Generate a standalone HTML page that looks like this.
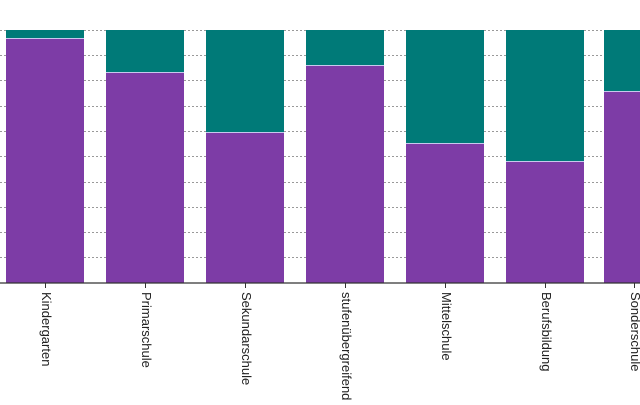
<!DOCTYPE html>
<html><head><style>body{margin:0;background:#fff;}</style></head><body>
<svg width="640" height="400" xmlns="http://www.w3.org/2000/svg" font-family="Liberation Sans, DejaVu Sans, sans-serif">
<g stroke="#999" stroke-dasharray="2,2" stroke-width="1">
<line x1="0" x2="640" y1="30.5" y2="30.5"/><line x1="0" x2="640" y1="55.5" y2="55.5"/><line x1="0" x2="640" y1="80.5" y2="80.5"/><line x1="0" x2="640" y1="106.5" y2="106.5"/><line x1="0" x2="640" y1="131.5" y2="131.5"/><line x1="0" x2="640" y1="156.5" y2="156.5"/><line x1="0" x2="640" y1="182.5" y2="182.5"/><line x1="0" x2="640" y1="207.5" y2="207.5"/><line x1="0" x2="640" y1="232.5" y2="232.5"/><line x1="0" x2="640" y1="257.5" y2="257.5"/>
</g>
<g>
<rect x="6" y="30" width="78" height="253" fill="#007a78"/><rect x="6" y="39" width="78" height="244" fill="#7d3ca6"/><line x1="6" x2="84" y1="38.5" y2="38.5" stroke="#c8c8ee"/>
<rect x="106" y="30" width="78" height="253" fill="#007a78"/><rect x="106" y="73" width="78" height="210" fill="#7d3ca6"/><line x1="106" x2="184" y1="72.5" y2="72.5" stroke="#c8c8ee"/>
<rect x="206" y="30" width="78" height="253" fill="#007a78"/><rect x="206" y="133" width="78" height="150" fill="#7d3ca6"/><line x1="206" x2="284" y1="132.5" y2="132.5" stroke="#c8c8ee"/>
<rect x="306" y="30" width="78" height="253" fill="#007a78"/><rect x="306" y="66" width="78" height="217" fill="#7d3ca6"/><line x1="306" x2="384" y1="65.5" y2="65.5" stroke="#c8c8ee"/>
<rect x="406" y="30" width="78" height="253" fill="#007a78"/><rect x="406" y="144" width="78" height="139" fill="#7d3ca6"/><line x1="406" x2="484" y1="143.5" y2="143.5" stroke="#c8c8ee"/>
<rect x="506" y="30" width="78" height="253" fill="#007a78"/><rect x="506" y="162" width="78" height="121" fill="#7d3ca6"/><line x1="506" x2="584" y1="161.5" y2="161.5" stroke="#c8c8ee"/>
<rect x="604" y="30" width="40" height="253" fill="#007a78"/><rect x="604" y="92" width="40" height="191" fill="#7d3ca6"/><line x1="604" x2="640" y1="91.5" y2="91.5" stroke="#c8c8ee"/>
</g>
<line x1="0" x2="640" y1="283" y2="283" stroke="#333" stroke-width="1.2"/>
<g stroke="#333">
<line x1="45.5" x2="45.5" y1="283" y2="288"/><line x1="145.5" x2="145.5" y1="283" y2="288"/><line x1="245.5" x2="245.5" y1="283" y2="288"/><line x1="345.5" x2="345.5" y1="283" y2="288"/><line x1="445.5" x2="445.5" y1="283" y2="288"/><line x1="545.5" x2="545.5" y1="283" y2="288"/><line x1="634.5" x2="634.5" y1="283" y2="288"/>
</g>
<g font-size="13" fill="#222">
<text transform="translate(42,292) rotate(90)">Kindergarten</text>
<text transform="translate(142,292) rotate(90)">Primarschule</text>
<text transform="translate(242,292) rotate(90)">Sekundarschule</text>
<text transform="translate(342,292) rotate(90)">stufenübergreifend</text>
<text transform="translate(442,292) rotate(90)">Mittelschule</text>
<text transform="translate(542,292) rotate(90)">Berufsbildung</text>
<text transform="translate(631,292) rotate(90)">Sonderschule</text>
</g>
</svg>
</body></html>
